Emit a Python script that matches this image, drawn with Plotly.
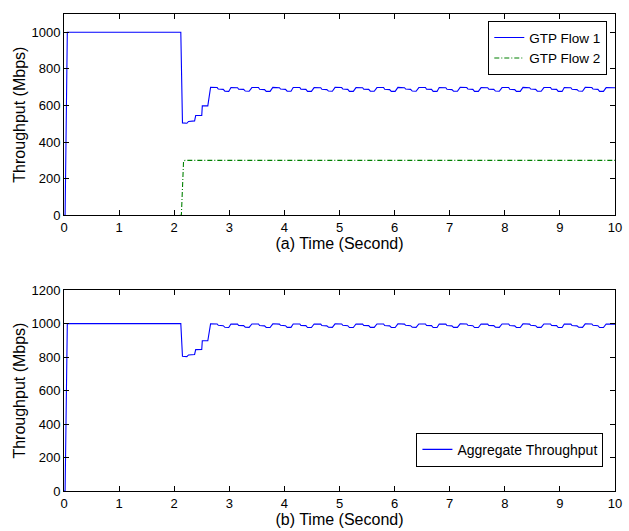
import plotly.graph_objects as go

# ---------------- data ----------------
time_s = [
    0.00, 0.02, 0.06, 2.12, 2.15, 2.23, 2.26, 2.37, 2.39, 2.50, 2.51, 2.61,
    2.66, 2.78, 2.80, 2.89, 2.92, 2.99,
    3.03, 3.15, 3.17, 3.26, 3.29, 3.36,
    3.41, 3.53, 3.55, 3.64, 3.67, 3.74,
    3.79, 3.91, 3.93, 4.02, 4.05, 4.12,
    4.16, 4.28, 4.30, 4.39, 4.42, 4.49,
    4.54, 4.66, 4.68, 4.77, 4.80, 4.87,
    4.92, 5.04, 5.06, 5.15, 5.18, 5.25,
    5.30, 5.42, 5.44, 5.53, 5.56, 5.63,
    5.68, 5.80, 5.82, 5.91, 5.94, 6.01,
    6.06, 6.18, 6.20, 6.29, 6.32, 6.39,
    6.44, 6.56, 6.58, 6.67, 6.70, 6.77,
    6.81, 6.93, 6.95, 7.04, 7.07, 7.14,
    7.19, 7.31, 7.33, 7.42, 7.45, 7.52,
    7.57, 7.69, 7.71, 7.80, 7.83, 7.90,
    7.95, 8.07, 8.09, 8.18, 8.21, 8.28,
    8.33, 8.45, 8.47, 8.56, 8.59, 8.66,
    8.71, 8.83, 8.85, 8.94, 8.97, 9.04,
    9.08, 9.20, 9.22, 9.31, 9.34, 9.41,
    9.46, 9.58, 9.60, 9.69, 9.72, 9.79,
    9.84, 10.00,
]

flow1 = [
    0, 0, 1000, 1000, 505, 503, 513, 516, 545, 546, 598, 598,
    699, 698, 690, 688, 678, 677,
    698, 697, 689, 688, 679, 678,
    698, 698, 689, 687, 677, 677,
    699, 697, 690, 688, 678, 678,
    698, 698, 689, 688, 677, 677,
    698, 697, 689, 687, 679, 678,
    699, 698, 690, 688, 677, 677,
    698, 697, 689, 688, 678, 678,
    698, 698, 689, 687, 677, 677,
    699, 697, 690, 688, 679, 678,
    698, 698, 689, 688, 677, 677,
    698, 697, 689, 687, 678, 678,
    699, 698, 690, 688, 677, 677,
    698, 697, 689, 688, 679, 678,
    698, 698, 689, 687, 677, 677,
    699, 697, 690, 688, 678, 678,
    698, 698, 689, 688, 677, 677,
    698, 697, 689, 687, 679, 678,
    699, 698, 690, 688, 677, 677,
    698, 697,
]

aggregate = [
    0, 0, 1000, 1000, 805, 803, 813, 816, 845, 846, 898, 898,
    999, 998, 990, 988, 978, 977,
    998, 997, 989, 988, 979, 978,
    998, 998, 989, 987, 977, 977,
    999, 997, 990, 988, 978, 978,
    998, 998, 989, 988, 977, 977,
    998, 997, 989, 987, 979, 978,
    999, 998, 990, 988, 977, 977,
    998, 997, 989, 988, 978, 978,
    998, 998, 989, 987, 977, 977,
    999, 997, 990, 988, 979, 978,
    998, 998, 989, 988, 977, 977,
    998, 997, 989, 987, 978, 978,
    999, 998, 990, 988, 977, 977,
    998, 997, 989, 988, 979, 978,
    998, 998, 989, 987, 977, 977,
    999, 997, 990, 988, 978, 978,
    998, 998, 989, 988, 977, 977,
    998, 997, 989, 987, 979, 978,
    999, 998, 990, 988, 977, 977,
    998, 997,
]

time_flow2 = [2.10, 2.13, 2.17, 2.20, 10.00]
flow2 = [0, 0, 298, 300, 300]

x_ticks = [0, 1, 2, 3, 4, 5, 6, 7, 8, 9, 10]
y_ticks_a = [0, 200, 400, 600, 800, 1000]
y_ticks_b = [0, 200, 400, 600, 800, 1000, 1200]

# ---------------- figure ----------------
FONT = "Liberation Sans, Arial, Helvetica, sans-serif"

fig = go.Figure()
fig.add_trace(go.Scatter(x=time_s, y=flow1, mode="lines", name="GTP Flow 1",
                         line=dict(color="#0000FF", width=1.1),
                         xaxis="x", yaxis="y", legend="legend"))
fig.add_trace(go.Scatter(x=time_flow2, y=flow2, mode="lines", name="GTP Flow 2",
                         line=dict(color="#008000", width=1.1, dash="5px,2px,1px,2px"),
                         xaxis="x", yaxis="y", legend="legend"))
fig.add_trace(go.Scatter(x=time_s, y=aggregate, mode="lines", name="Aggregate Throughput",
                         line=dict(color="#0000FF", width=1.1),
                         xaxis="x2", yaxis="y2", legend="legend2"))

axis_common = dict(
    showline=True, linecolor="black", linewidth=1, mirror="ticks",
    ticks="inside", ticklen=5, tickcolor="black", tickwidth=1,
    showgrid=False, zeroline=False,
    tickfont=dict(family=FONT, size=13, color="black"),
)

fig.update_layout(
    width=629, height=531,
    margin=dict(l=64, r=7, t=11, b=37),
    paper_bgcolor="white", plot_bgcolor="white",
    font=dict(family=FONT, color="black"),
    xaxis=dict(domain=[0, 1], anchor="y", range=[0, 10], tickvals=x_ticks,
               title=dict(text="(a) Time (Second)", font=dict(size=16), standoff=2),
               **axis_common),
    yaxis=dict(domain=[0.578, 1], anchor="x", range=[0, 1100], tickvals=y_ticks_a,
               title=dict(text="Throughput (Mbps)", font=dict(size=16), standoff=1),
               **axis_common),
    xaxis2=dict(domain=[0, 1], anchor="y2", range=[0, 10], tickvals=x_ticks,
                title=dict(text="(b) Time (Second)", font=dict(size=16), standoff=2),
                **axis_common),
    yaxis2=dict(domain=[0, 0.421], anchor="x2", range=[0, 1200], tickvals=y_ticks_b,
                title=dict(text="Throughput (Mbps)", font=dict(size=16), standoff=1),
                **axis_common),
    legend=dict(x=0.986, xanchor="right", y=0.985, yanchor="top",
                bgcolor="white", bordercolor="black", borderwidth=1,
                font=dict(family=FONT, size=13.5, color="black"),
                tracegroupgap=0),
    legend2=dict(x=0.979, xanchor="right", y=0.122, yanchor="top",
                 bgcolor="white", bordercolor="black", borderwidth=1,
                 font=dict(family=FONT, size=14, color="black")),
)

fig.write_html("out.html")
